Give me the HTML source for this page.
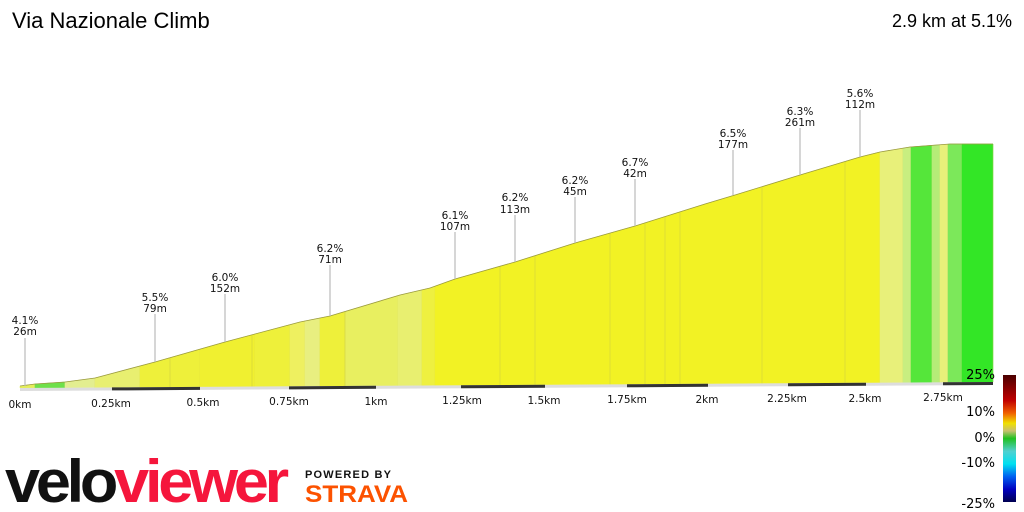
<!DOCTYPE html>
<html><head><meta charset="utf-8"><style>
html,body{margin:0;padding:0;background:#fff;width:1024px;height:512px;overflow:hidden}
</style></head><body>
<svg id="s" width="1024" height="512" xmlns="http://www.w3.org/2000/svg" font-family="Liberation Sans, DejaVu Sans, sans-serif">
<text x="12" y="28" font-size="22" fill="#000">Via Nazionale Climb</text>
<text x="1012" y="27" font-size="18" fill="#000" text-anchor="end">2.9 km at 5.1%</text>
<g id="prof"></g>
<g stroke="#bbb" stroke-width="1.2">
<line x1="25" y1="338" x2="25" y2="386"/><line x1="155" y1="314" x2="155" y2="362"/>
<line x1="225" y1="294" x2="225" y2="342"/><line x1="330" y1="265" x2="330" y2="316"/>
<line x1="455" y1="232" x2="455" y2="279"/><line x1="515" y1="215" x2="515" y2="262"/>
<line x1="575" y1="197" x2="575" y2="243"/><line x1="635" y1="179" x2="635" y2="226"/>
<line x1="733" y1="150" x2="733" y2="195"/><line x1="800" y1="128" x2="800" y2="175"/>
<line x1="860" y1="110" x2="860" y2="157"/>
</g>
<g font-size="10.5" fill="#111" text-anchor="middle" font-family="DejaVu Sans, sans-serif">
<text x="25" y="324">4.1%</text><text x="25" y="335">26m</text>
<text x="155" y="301">5.5%</text><text x="155" y="312">79m</text>
<text x="225" y="281">6.0%</text><text x="225" y="292">152m</text>
<text x="330" y="252">6.2%</text><text x="330" y="263">71m</text>
<text x="455" y="219">6.1%</text><text x="455" y="230">107m</text>
<text x="515" y="201">6.2%</text><text x="515" y="213">113m</text>
<text x="575" y="184">6.2%</text><text x="575" y="195">45m</text>
<text x="635" y="166">6.7%</text><text x="635" y="177">42m</text>
<text x="733" y="137">6.5%</text><text x="733" y="148">177m</text>
<text x="800" y="115">6.3%</text><text x="800" y="126">261m</text>
<text x="860" y="97">5.6%</text><text x="860" y="108">112m</text>
</g>
<g font-size="10.5" fill="#111" text-anchor="middle" font-family="DejaVu Sans, sans-serif">
<text x="20" y="408">0km</text><text x="111" y="407">0.25km</text><text x="203" y="406">0.5km</text>
<text x="289" y="405">0.75km</text><text x="376" y="405">1km</text><text x="462" y="404">1.25km</text>
<text x="544" y="404">1.5km</text><text x="627" y="403">1.75km</text><text x="707" y="403">2km</text>
<text x="787" y="402">2.25km</text><text x="865" y="402">2.5km</text><text x="943" y="401">2.75km</text>
</g>
<defs><linearGradient id="cb" x1="0" y1="0" x2="0" y2="1">
<stop offset="0" stop-color="#4a0000"/><stop offset="0.2" stop-color="#c00000"/><stop offset="0.3" stop-color="#f06000"/>
<stop offset="0.38" stop-color="#f0e000"/><stop offset="0.44" stop-color="#c8c070"/><stop offset="0.5" stop-color="#20c020"/>
<stop offset="0.6" stop-color="#50d0d0"/><stop offset="0.7" stop-color="#00e0f0"/><stop offset="0.8" stop-color="#0060f0"/>
<stop offset="0.9" stop-color="#0000c0"/><stop offset="1" stop-color="#000050"/></linearGradient></defs>
<rect x="1003" y="375" width="13" height="127" fill="url(#cb)"/>
<g font-size="13" fill="#000" text-anchor="end" font-family="DejaVu Sans, sans-serif">
<text x="995" y="379">25%</text><text x="995" y="416">10%</text><text x="995" y="442">0%</text>
<text x="995" y="467">-10%</text><text x="995" y="508">-25%</text></g>
<text x="5" y="502" font-size="60" font-weight="bold" letter-spacing="-4" fill="#111" textLength="280" lengthAdjust="spacingAndGlyphs" font-family="Liberation Sans, sans-serif">velo<tspan fill="#f5163c">viewer</tspan></text>
<text x="305" y="478" font-size="11" font-weight="bold" letter-spacing="1.2" fill="#111">POWERED BY</text>
<text x="305" y="502" font-size="24" font-weight="bold" fill="#fc5200" textLength="103" lengthAdjust="spacingAndGlyphs">STRAVA</text>
</svg>
<script>
var P=[[20,386],[35,384],[65,382],[95,378],[155,362],[225,342],[300,322],[330,316],[400,295],[430,288],[455,279],[515,262],[575,243],[635,226],[705,204],[735,195],[800,175],[860,157],[880,152],[910,147],[950,144],[993,144]];
function fy(x){for(var i=1;i<P.length;i++){if(x<=P[i][0]){var a=P[i-1],b=P[i];return a[1]+(b[1]-a[1])*(x-a[0])/(b[0]-a[0]);}}return 144;}
function bot(x){return 388-6*(x-20)/973;}
var S=[[20,35,"#e4ee5a"],[35,65,"#6ee04a"],[65,95,"#e3ee90"],[95,140,"#e8ef70"],[140,200,"#eef03a"],[200,255,"#f0f030"],[255,290,"#eef03a"],[290,305,"#eef060"],[305,320,"#e8ef80"],[320,345,"#eef03a"],[345,398,"#e8ef60"],[398,422,"#e8ef70"],[422,435,"#eef040"],[435,880,"#f2f224"],[880,903,"#e8f07a"],[903,911,"#c8ee80"],[911,932,"#55e63a"],[932,940,"#b5ec78"],[940,948,"#e8f07a"],[948,962,"#7ce85a"],[962,993,"#33e626"]];
var NS="http://www.w3.org/2000/svg";
var g=document.getElementById("prof");
function el(t,at){var e=document.createElementNS(NS,t);for(var k in at)e.setAttribute(k,at[k]);g.appendChild(e);}
var cuts=[170,252,345,500,535,610,645,665,680,762,845];
S.forEach(function(s){var xs=[s[0]];P.forEach(function(p){if(p[0]>s[0]&&p[0]<s[1])xs.push(p[0]);});xs.push(s[1]);
var pts=xs.map(function(x){return x+","+fy(x).toFixed(1);});pts.push(s[1]+","+bot(s[1]).toFixed(1));pts.push(s[0]+","+bot(s[0]).toFixed(1));
el("polygon",{points:pts.join(" "),fill:s[2],stroke:s[2],"stroke-width":"0.5"});
el("line",{x1:s[1],y1:fy(s[1]),x2:s[1],y2:bot(s[1]),stroke:"#c8c860","stroke-width":"0.6",opacity:"0.6"});});
cuts.forEach(function(x){el("line",{x1:x,y1:fy(x),x2:x,y2:bot(x),stroke:"#d0d040","stroke-width":"0.6"});});
el("polyline",{points:P.map(function(p){return p.join(",");}).join(" "),fill:"none",stroke:"#9a9a40","stroke-width":"0.8"});
el("line",{x1:20,y1:389.5,x2:993,y2:383.5,stroke:"#ddd","stroke-width":"3"});
[[112,200],[289,376],[461,545],[627,708],[788,866],[943,993]].forEach(function(d){el("line",{x1:d[0],y1:bot(d[0])+1.5,x2:d[1],y2:bot(d[1])+1.5,stroke:"#333","stroke-width":"3"});});
</script>
</body></html>
